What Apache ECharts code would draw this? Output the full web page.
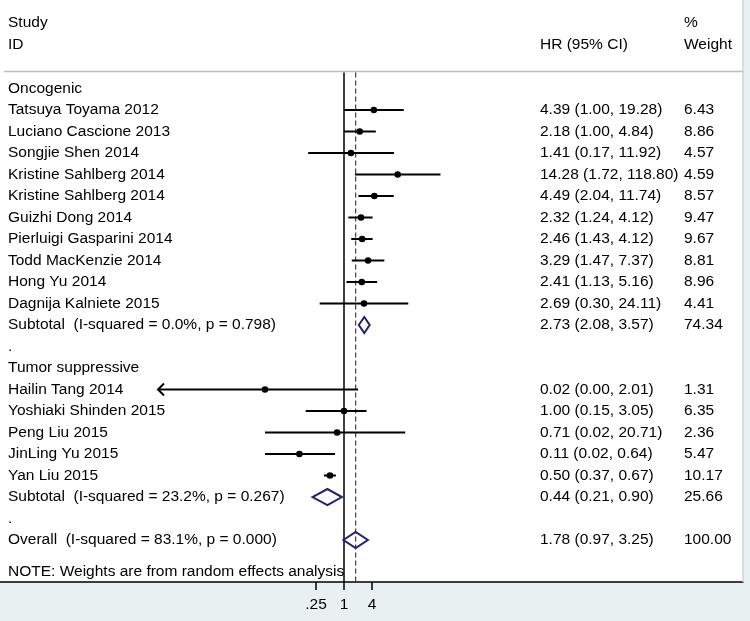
<!DOCTYPE html>
<html><head><meta charset="utf-8">
<script src="https://cdn.jsdelivr.net/npm/echarts@6/dist/echarts.min.js"></script>
<style>html,body{margin:0;padding:0;background:#e9f0f2;}#c{width:750px;height:621px;}</style>
</head><body><div id="c"></div>
<script>
// ---- data (rows top to bottom) ----
const labels = [
  "Oncogenic",
  "Tatsuya Toyama 2012",
  "Luciano Cascione 2013",
  "Songjie Shen 2014",
  "Kristine Sahlberg 2014",
  "Kristine Sahlberg 2014",
  "Guizhi Dong 2014",
  "Pierluigi Gasparini 2014",
  "Todd MacKenzie 2014",
  "Hong Yu 2014",
  "Dagnija Kalniete 2015",
  "Subtotal  (I-squared = 0.0%, p = 0.798)",
  ".",
  "Tumor suppressive",
  "Hailin Tang 2014",
  "Yoshiaki Shinden 2015",
  "Peng Liu 2015",
  "JinLing Yu 2015",
  "Yan Liu 2015",
  "Subtotal  (I-squared = 23.2%, p = 0.267)",
  ".",
  "Overall  (I-squared = 83.1%, p = 0.000)"
];
const rowKind = ["head","study","study","study","study","study","study","study","study","study","study","pool","dot",
                 "head","study","study","study","study","study","pool","dot","pool"];
const hr     = [null,4.39,2.18,1.41,14.28,4.49,2.32,2.46,3.29,2.41,2.69,2.73,null,null,0.02,1.00,0.71,0.11,0.50,0.44,null,1.78];
const lower  = [null,1.00,1.00,0.17,1.72,2.04,1.24,1.43,1.47,1.13,0.30,2.08,null,null,0.0001,0.15,0.02,0.02,0.37,0.21,null,0.97];
const upper  = [null,19.28,4.84,11.92,118.80,11.74,4.12,4.12,7.37,5.16,24.11,3.57,null,null,2.01,3.05,20.71,0.64,0.67,0.90,null,3.25];
const weights= [null,6.43,8.86,4.57,4.59,8.57,9.47,9.67,8.81,8.96,4.41,74.34,null,null,1.31,6.35,2.36,5.47,10.17,25.66,null,100.00];
const overallHR = 1.78;
const tickValues = [0.25, 1, 4];
const tickLabels = [".25", "1", "4"];
const headerTexts = {study: "Study", id: "ID", hr: "HR (95% CI)", pct: "%", weight: "Weight"};
const noteText = "NOTE: Weights are from random effects analysis";

// ---- layout ----
const FONT = '15.5px "Liberation Sans", Arial, sans-serif';
const COL_STUDY = 8, COL_HR = 540, COL_W = 684;
const ROW_HEAD1 = -3.05, ROW_HEAD2 = -2.05, ROW_RULE = -0.79, ROW_NOTE = 22.47;
const NAVY = '#1f2470', MAROON = '#8b1a2b';

const chart = echarts.init(document.getElementById('c'), null, {renderer: 'canvas'});

function txt(s, x, y, extra) {
  return {type: 'text', style: Object.assign({text: s, x: x, y: y, font: FONT, fill: '#000', verticalAlign: 'middle', align: 'left'}, extra || {})};
}

const rowsData = labels.map((_, i) => [1, i]);

chart.setOption({
  animation: false,
  backgroundColor: '#e9f0f2',
  grid: {left: 0, top: 0, width: 743, height: 582, show: true, backgroundColor: '#ffffff', borderWidth: 0},
  xAxis: {
    type: 'log', logBase: 10,
    min: Math.pow(10, -344 / 46.5), max: Math.pow(10, (743 - 344) / 46.5),
    position: 'bottom',
    axisLine: {show: true, onZero: false, lineStyle: {color: '#000', width: 1.5}},
    axisTick: {show: true, customValues: tickValues, length: 8, lineStyle: {color: '#000', width: 1.5}},
    axisLabel: {show: true, customValues: tickValues, margin: 15, color: '#000',
      fontSize: 15.5, fontFamily: '"Liberation Sans", Arial, sans-serif',
      formatter: function (v) {
        let best = 0;
        tickValues.forEach((t, k) => { if (Math.abs(Math.log(v / t)) < Math.abs(Math.log(v / tickValues[best]))) best = k; });
        return tickLabels[best];
      }},
    splitLine: {show: false}
  },
  yAxis: {type: 'value', inverse: true, min: -4.116, max: 22.953, show: false},
  series: [
    {
      type: 'custom', clip: false, z: 1,
      data: [[1, 0]],
      renderItem: function (params, api) {
        const cs = params.coordSys;
        const yH1 = api.coord([1, ROW_HEAD1])[1];
        const yH2 = api.coord([1, ROW_HEAD2])[1];
        const yRule = api.coord([1, ROW_RULE])[1];
        const yBottom = cs.y + cs.height;
        const xNull = api.coord([1, 0])[0];
        const xOverall = api.coord([overallHR, 0])[0];
        const yNote = api.coord([1, ROW_NOTE])[1];
        return {type: 'group', children: [
          {type: 'line', shape: {x1: cs.x + cs.width, y1: cs.y, x2: cs.x + cs.width, y2: yBottom}, style: {stroke: '#cdd3d6', lineWidth: 1.5}},
          {type: 'line', shape: {x1: 4, y1: yRule, x2: cs.x + cs.width, y2: yRule}, style: {stroke: '#bdbdbd', lineWidth: 1.5}},
          {type: 'line', shape: {x1: xNull, y1: yRule + 1, x2: xNull, y2: yBottom}, style: {stroke: '#000', lineWidth: 1.5}},
          {type: 'line', shape: {x1: xOverall, y1: yRule + 1, x2: xOverall, y2: yBottom}, style: {stroke: MAROON, lineWidth: 1.2, lineDash: [5, 3]}},
          txt(headerTexts.study, COL_STUDY, yH1),
          txt(headerTexts.id, COL_STUDY, yH2),
          txt(headerTexts.hr, COL_HR, yH2),
          txt(headerTexts.pct, COL_W, yH1),
          txt(headerTexts.weight, COL_W, yH2),
          txt(noteText, COL_STUDY, yNote)
        ]};
      }
    },
    {
      type: 'custom', clip: false, z: 2,
      data: rowsData,
      renderItem: function (params, api) {
        const i = params.dataIndex;
        const y = api.coord([1, i])[1];
        const kids = [txt(labels[i], COL_STUDY, y)];
        if (hr[i] != null) {
          kids.push(txt(hr[i].toFixed(2) + ' (' + lower[i].toFixed(2) + ', ' + upper[i].toFixed(2) + ')', COL_HR, y));
          kids.push(txt(weights[i].toFixed(2), COL_W, y));
          const xl = api.coord([lower[i], i])[0];
          const xu = api.coord([upper[i], i])[0];
          const xp = api.coord([hr[i], i])[0];
          if (rowKind[i] === 'study') {
            kids.push({type: 'line', shape: {x1: xl, y1: y, x2: xu, y2: y}, style: {stroke: '#000', lineWidth: 2}});
            if (lower[i] < 0.005) {
              kids.push({type: 'polyline', shape: {points: [[xl + 6, y - 6], [xl, y], [xl + 6, y + 6]]}, style: {stroke: '#000', lineWidth: 2, fill: null}});
            }
            kids.push({type: 'circle', shape: {cx: xp, cy: y, r: 3.3}, style: {fill: '#000'}});
          } else if (rowKind[i] === 'pool') {
            kids.push({type: 'polygon', shape: {points: [[xl, y], [xp, y - 8], [xu, y], [xp, y + 8]]}, style: {stroke: NAVY, lineWidth: 2, fill: null}});
          }
        }
        return {type: 'group', children: kids};
      }
    }
  ]
});
</script>
</body></html>
